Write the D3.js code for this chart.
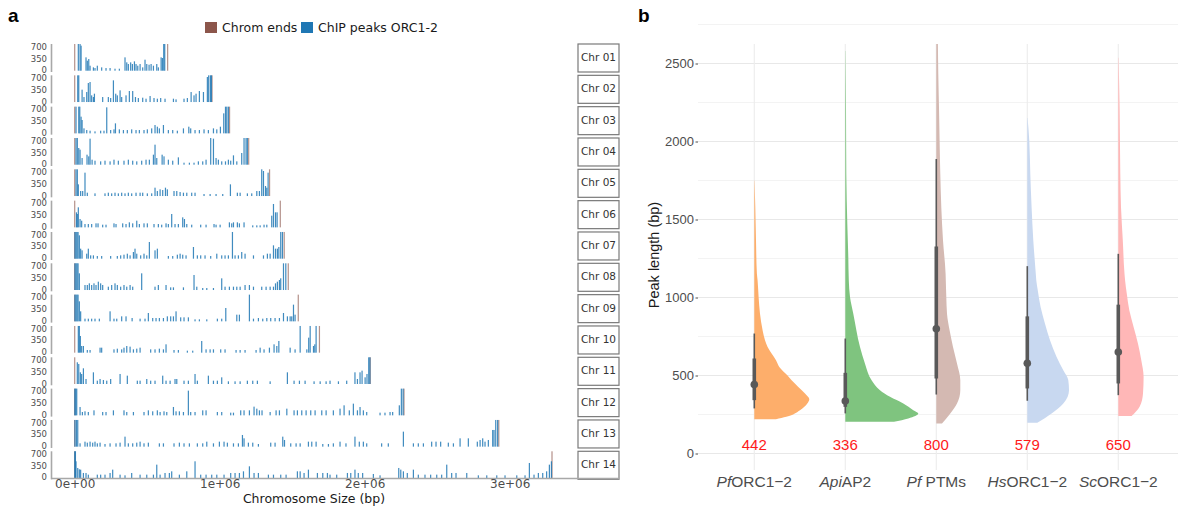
<!DOCTYPE html>
<html>
<head>
<meta charset="utf-8">
<script src="https://cdn.jsdelivr.net/npm/d3@7"></script>
<style>
  body { margin: 0; background: #fff; }
  svg { display: block; }
</style>
</head>
<body>
<svg width="1178" height="508"></svg>
<script>
// ---------- panel a data (positions in kb, peak heights) ----------
const chromNames = ["Chr 01","Chr 02","Chr 03","Chr 04","Chr 05","Chr 06","Chr 07",
                    "Chr 08","Chr 09","Chr 10","Chr 11","Chr 12","Chr 13","Chr 14"];
const chromLengths = [641, 947, 1068, 1200, 1344, 1418, 1445, 1473, 1542, 1688, 2038, 2271, 2925, 3292];

const peaksChr01 = [[25,830],[37,820],[44,750],[78,400],[87,300],[97,350],[106,150],[129,100],[140,80],[156,150],[186,100],[216,80],[244,80],[278,60],[308,60],[347,400],[359,250],[370,200],[386,250],[398,200],[412,280],[423,200],[435,150],[451,200],[469,100],[485,330],[497,200],[513,180],[527,200],[543,150],[566,200],[577,100],[596,400],[605,380],[614,830],[621,830]];
const peaksChr02 = [[21,800],[28,800],[51,370],[64,150],[83,300],[94,570],[106,600],[117,200],[129,150],[136,250],[193,150],[232,150],[248,120],[267,650],[283,250],[294,200],[313,350],[324,150],[354,200],[377,330],[400,330],[419,150],[439,120],[469,130],[492,100],[520,180],[547,120],[570,100],[593,120],[623,100],[681,100],[699,80],[754,100],[777,120],[803,300],[823,200],[837,250],[860,330],[888,300],[915,750],[924,830],[936,830],[943,830]];
const peaksChr03 = [[9,850],[28,830],[35,800],[44,500],[51,400],[64,150],[83,100],[106,80],[140,60],[179,80],[202,80],[221,780],[248,100],[271,120],[281,300],[308,120],[336,100],[363,100],[393,120],[423,100],[446,100],[478,100],[501,120],[531,150],[554,250],[570,200],[584,150],[612,250],[646,100],[676,100],[708,80],[750,150],[787,200],[800,150],[830,100],[860,100],[892,120],[922,100],[957,150],[980,120],[1005,200],[1028,600],[1040,820],[1049,820],[1060,820]];
const peaksChr04 = [[9,850],[18,830],[28,500],[37,450],[51,200],[85,300],[97,250],[106,780],[120,150],[140,120],[179,100],[209,120],[244,100],[271,150],[301,120],[340,120],[370,150],[400,120],[428,100],[462,120],[492,150],[515,150],[543,300],[554,600],[566,200],[603,300],[616,250],[646,150],[676,120],[715,220],[754,60],[791,60],[823,60],[853,100],[883,100],[906,150],[938,800],[957,780],[975,200],[991,150],[1014,100],[1040,100],[1060,150],[1076,120],[1095,280],[1118,100],[1152,350],[1168,800],[1182,820],[1191,820]];
const peaksChr05 = [[9,850],[18,800],[25,350],[41,150],[55,150],[71,700],[87,100],[140,80],[209,80],[232,100],[255,80],[278,100],[301,80],[324,100],[347,80],[370,100],[393,80],[423,100],[451,100],[469,100],[501,80],[531,80],[554,250],[570,150],[589,200],[607,180],[626,250],[639,200],[685,150],[704,150],[727,120],[750,100],[773,100],[807,100],[830,100],[892,60],[934,60],[975,60],[1021,60],[1074,350],[1122,100],[1141,100],[1191,80],[1221,80],[1256,150],[1274,150],[1290,800],[1302,750],[1316,300],[1325,250],[1334,700]];
const peaksChr06 = [[12,450],[18,400],[25,600],[37,250],[48,200],[71,100],[94,100],[117,100],[147,120],[161,120],[193,80],[216,80],[271,120],[285,100],[331,120],[354,100],[377,150],[400,120],[428,200],[446,100],[478,120],[501,120],[547,100],[577,100],[600,80],[630,120],[646,100],[669,400],[692,100],[715,100],[745,300],[757,250],[773,100],[807,80],[869,80],[906,80],[961,100],[975,80],[1003,80],[1067,150],[1083,120],[1095,150],[1122,150],[1136,120],[1168,150],[1228,60],[1256,60],[1279,60],[1306,80],[1325,80],[1359,350],[1371,700],[1385,450],[1396,450]];
const peaksChr07 = [[2,830],[9,830],[16,830],[23,830],[32,700],[41,300],[51,250],[83,150],[94,300],[110,100],[129,100],[156,80],[186,80],[248,80],[294,80],[317,100],[340,120],[363,150],[382,100],[405,200],[416,300],[428,150],[455,100],[478,150],[497,100],[515,500],[554,250],[570,300],[646,80],[676,80],[708,120],[727,150],[745,120],[768,100],[819,350],[846,100],[869,100],[899,100],[938,80],[980,150],[1014,100],[1037,100],[1060,100],[1088,850],[1106,100],[1129,100],[1152,200],[1175,150],[1233,100],[1302,100],[1329,150],[1348,150],[1371,400],[1385,300],[1398,300],[1408,350],[1421,830],[1433,830]];
const peaksChr08 = [[2,830],[9,830],[16,830],[23,800],[32,500],[71,150],[87,150],[101,200],[117,150],[133,200],[147,150],[163,250],[179,200],[193,150],[232,100],[255,150],[278,200],[294,150],[317,100],[340,150],[359,100],[382,150],[400,100],[462,500],[554,100],[577,150],[630,150],[662,80],[681,80],[750,80],[823,450],[842,100],[883,60],[911,60],[957,60],[1014,350],[1037,100],[1067,100],[1095,100],[1118,100],[1141,100],[1175,150],[1205,150],[1233,100],[1290,100],[1320,100],[1348,100],[1371,100],[1385,200],[1398,250],[1412,300],[1421,350],[1440,830],[1456,830]];
const peaksChr09 = [[2,830],[9,830],[16,830],[23,800],[32,600],[41,300],[71,80],[94,80],[117,80],[140,80],[170,80],[244,300],[271,80],[290,80],[324,150],[354,150],[396,100],[451,80],[485,80],[508,250],[538,100],[561,100],[584,100],[612,100],[639,150],[662,150],[681,150],[699,300],[731,120],[754,120],[784,120],[830,60],[860,60],[911,60],[984,80],[1014,80],[1042,400],[1118,200],[1136,200],[1205,800],[1233,80],[1267,100],[1297,80],[1325,100],[1352,100],[1382,100],[1412,100],[1440,250],[1467,150],[1486,150],[1497,150],[1509,500],[1520,200]];
const peaksChr10 = [[25,850],[32,800],[39,500],[48,200],[60,200],[87,80],[106,80],[175,150],[186,150],[271,100],[294,120],[324,100],[340,150],[359,200],[382,180],[405,100],[428,120],[451,150],[524,100],[554,100],[584,120],[612,100],[630,250],[685,80],[715,80],[777,60],[814,60],[876,350],[906,100],[934,100],[957,100],[1007,100],[1037,100],[1113,80],[1141,80],[1175,80],[1251,80],[1279,150],[1306,100],[1343,150],[1375,250],[1394,200],[1408,350],[1486,150],[1520,100],[1555,850],[1601,100],[1614,450],[1624,820],[1647,200],[1656,250],[1665,820]];
const peaksChr11 = [[18,650],[28,600],[39,350],[48,300],[60,470],[78,150],[129,350],[156,100],[175,150],[198,120],[221,100],[248,150],[313,300],[363,250],[432,100],[451,100],[497,150],[524,100],[554,100],[607,250],[630,100],[658,100],[692,150],[704,150],[754,100],[784,100],[830,300],[846,100],[922,250],[957,100],[984,100],[1014,200],[1060,80],[1106,80],[1141,80],[1191,100],[1228,100],[1260,100],[1348,80],[1467,350],[1513,100],[1550,100],[1589,100],[1651,80],[1693,80],[1734,80],[1761,100],[1819,80],[1876,100],[1933,350],[1950,150],[1968,350],[1982,400],[2003,200],[2016,300],[2028,830],[2036,830]];
const peaksChr12 = [[1,850],[7,850],[14,850],[37,250],[53,100],[71,120],[94,100],[133,150],[193,100],[216,100],[267,150],[340,150],[359,100],[405,100],[478,100],[508,150],[538,120],[570,150],[589,100],[616,120],[635,100],[681,250],[699,120],[722,120],[750,100],[784,740],[800,100],[830,100],[883,150],[906,150],[984,100],[1014,100],[1076,80],[1095,80],[1145,150],[1168,150],[1205,150],[1237,260],[1256,200],[1274,150],[1292,150],[1348,100],[1389,150],[1412,150],[1463,200],[1513,150],[1536,150],[1566,150],[1596,150],[1628,150],[1658,150],[1704,150],[1734,150],[1784,150],[1830,200],[1858,300],[1894,150],[1922,350],[1950,150],[1968,250],[1991,150],[2014,100],[2106,80],[2140,80],[2175,100],[2193,100],[2239,300],[2253,830],[2265,830]];
const peaksChr13 = [[2,830],[12,830],[21,830],[37,100],[71,150],[87,120],[106,150],[124,120],[140,150],[156,100],[175,120],[209,80],[244,100],[285,100],[313,120],[347,300],[370,100],[400,100],[428,120],[451,150],[478,100],[508,120],[584,100],[612,100],[685,100],[722,120],[754,100],[791,100],[846,100],[883,100],[911,150],[957,100],[998,150],[1030,150],[1053,120],[1095,100],[1129,100],[1157,350],[1168,250],[1198,120],[1228,120],[1267,80],[1352,120],[1382,120],[1435,300],[1447,200],[1490,100],[1527,100],[1555,100],[1612,150],[1635,150],[1665,150],[1711,80],[1750,80],[1784,100],[1830,150],[1871,100],[1933,300],[1963,150],[1991,150],[2014,100],[2117,100],[2163,100],[2267,450],[2336,100],[2370,100],[2405,100],[2462,150],[2492,150],[2524,150],[2577,120],[2612,100],[2658,250],[2715,250],[2777,150],[2796,200],[2814,250],[2830,150],[2853,200],[2883,500],[2892,500],[2904,830],[2917,830]];
const peaksChr14 = [[1,830],[5,830],[9,500],[21,300],[32,260],[41,250],[60,150],[78,150],[94,100],[156,100],[179,100],[209,100],[244,150],[262,250],[313,100],[347,80],[393,150],[451,100],[497,100],[543,100],[566,400],[589,100],[623,150],[653,150],[669,200],[722,100],[773,200],[830,500],[869,100],[906,100],[945,100],[980,100],[1030,100],[1076,150],[1106,150],[1136,150],[1164,200],[1205,350],[1237,150],[1267,150],[1336,100],[1371,100],[1421,100],[1458,100],[1536,200],[1555,200],[1582,150],[1612,250],[1674,150],[1711,150],[1743,150],[1761,100],[1807,100],[1881,150],[1904,150],[1933,250],[1956,150],[1986,150],[2060,120],[2106,80],[2235,300],[2249,250],[2267,200],[2294,150],[2336,250],[2370,100],[2416,100],[2455,100],[2497,100],[2531,100],[2566,400],[2600,150],[2630,150],[2704,150],[2784,80],[2842,80],[2911,80],[2968,80],[3049,80],[3106,80],[3136,450],[3168,100],[3198,150],[3228,150],[3255,200],[3274,400],[3288,500]];
const chromPeaks = [peaksChr01, peaksChr02, peaksChr03, peaksChr04, peaksChr05, peaksChr06, peaksChr07,
                    peaksChr08, peaksChr09, peaksChr10, peaksChr11, peaksChr12, peaksChr13, peaksChr14];

const rowTicks = [0, 350, 700];
const xTickVals = [0, 1000, 2000, 3000];
const xTickLabels = ["0e+00", "1e+06", "2e+06", "3e+06"];
const legendLabels = ["Chrom ends", "ChIP peaks ORC1-2"];

// ---------- panel b data ----------
const groups = ["PfORC1-2", "ApiAP2", "PfPTMs", "HsORC1-2", "ScORC1-2"];
const groupItalic = ["Pf", "Api", "Pf", "Hs", "Sc"];
const groupRest = ["ORC1\u22122", "AP2", " PTMs", "ORC1\u22122", "ORC1\u22122"];
const medians = [442, 336, 800, 579, 650];
const thinLo = [289, 257, 378, 338, 374];
const thinHi = [769, 737, 1888, 1201, 1280];
const thickLo = [342, 299, 481, 417, 449];
const thickHi = [609, 517, 1327, 879, 954];
const yTicksB = [0, 500, 1000, 1500, 2000, 2500];
// [peak length, relative density]
const densPfORC = [[219,21.7],[235,32],[278,45.7],[321,53],[348,55],[385,50.7],[427,44],[470,37.3],[502,33],[555,25],[598,21.7],[641,17.3],[683,13.3],[726,10.7],[790,8.3],[896,5.7],[1003,4.3],[1109,3.3],[1152,2.6],[1365,1.7],[1578,1],[1750,0.2]];
const densApiAP2 = [[203,48.7],[225,63],[257,73],[278,68],[321,58],[363,44.7],[406,34.7],[470,26.3],[576,19.7],[683,14.7],[896,8],[1003,4.7],[1109,3.5],[1258,3],[1472,2],[1791,1],[2217,0.7],[2580,0.2]];
const densPfPTMs = [[193,5.7],[257,14],[321,20.7],[406,24],[470,24],[577,20.7],[683,16.7],[790,13.3],[896,10.7],[1003,10],[1109,9.5],[1152,9.3],[1365,6.7],[1578,5],[1791,4],[2004,3.3],[2217,2.7],[2431,2],[2700,1.5]];
const densHsORC = [[197,10],[257,24.3],[321,36],[406,41.7],[470,41],[534,36],[619,29.3],[726,22.7],[832,17.7],[939,13.3],[1045,10.5],[1109,9],[1152,8.5],[1365,6],[1578,4.3],[1791,3],[2004,2],[2150,0.3]];
const densScORC = [[240,13.3],[299,21.3],[385,24.7],[491,25.3],[598,23],[704,19.7],[811,15.3],[918,11],[1024,8.5],[1109,6.8],[1152,6.2],[1365,4.5],[1578,2.7],[1791,2],[2217,1.3],[2537,0.3]];
const groupDens = [densPfORC, densApiAP2, densPfPTMs, densHsORC, densScORC];
const groupColors = ["#fdae6b", "#7fc47f", "#d4b9b2", "#c8d8f0", "#ffb7b7"];

const svg = d3.select("svg");

// ================= panel a =================
const fontA = "DejaVu Sans, sans-serif";
const peakColor = "#1f77b4";
const endColor = "#8c564b";

svg.append("text")
    .attr("x", 8).attr("y", 22)
    .style("font-family", "Liberation Sans, Arial, sans-serif")
    .style("font-weight", "bold").style("font-size", "19px")
    .text("a");

// legend
const legend = svg.append("g").attr("transform", "translate(205,22)");
[endColor, peakColor].forEach((c, i) => {
    const lx = i === 0 ? 0 : 96;
    legend.append("rect").attr("x", lx).attr("y", 0).attr("width", 12).attr("height", 11).attr("fill", c);
    legend.append("text").attr("x", lx + 17).attr("y", 6)
        .attr("dominant-baseline", "middle")
        .style("font-family", fontA).style("font-size", "12.5px").attr("fill", "#1a1a1a")
        .text(legendLabels[i]);
});

const x = d3.scaleLinear().domain([0, 3292]).range([74.7, 552]);
const rowStep = 31.33, rowH = 28, firstTop = 44;

chromNames.forEach((name, i) => {
    const top = firstTop + i * rowStep;
    const y = d3.scaleLinear().domain([0, 800]).range([top + 26.7, top]).clamp(true);
    const g = svg.append("g");

    // left axis line
    g.append("line").attr("x1", 51.5).attr("x2", 51.5).attr("y1", top).attr("y2", top + rowH)
        .attr("stroke", "#a8a8a8").attr("stroke-width", 1.6);
    g.selectAll(".tk").data(rowTicks).enter().append("text")
        .attr("x", 47).attr("y", d => y(d))
        .attr("text-anchor", "end").attr("dominant-baseline", "middle")
        .style("font-family", fontA).style("font-size", "8.5px").attr("fill", "#4d4d4d")
        .text(d => d);

    // chromosome ends
    g.selectAll(".end").data([0, chromLengths[i]]).enter().append("rect")
        .attr("x", d => x(d) - 0.6).attr("width", 1.2)
        .attr("y", y(800)).attr("height", y(0) - y(800))
        .attr("fill", endColor).attr("opacity", 0.65);

    // ChIP peaks
    g.selectAll(".pk").data(chromPeaks[i]).enter().append("rect")
        .attr("x", d => x(d[0]) - 0.6).attr("width", 1.2)
        .attr("y", d => y(d[1])).attr("height", d => y(0) - y(d[1]))
        .attr("fill", peakColor).attr("opacity", 0.85);

    // strip
    g.append("rect").attr("x", 578).attr("y", top).attr("width", 41).attr("height", rowH)
        .attr("fill", "#fff").attr("stroke", "#7a7a7a").attr("stroke-width", 1.2);
    g.append("text").attr("x", 598.5).attr("y", top + rowH / 2)
        .attr("text-anchor", "middle").attr("dominant-baseline", "middle")
        .style("font-family", fontA).style("font-size", "10.5px").attr("fill", "#333")
        .text(name);
});

// x axis
svg.append("line").attr("x1", 51).attr("x2", 619).attr("y1", 478.5).attr("y2", 478.5)
    .attr("stroke", "#a8a8a8").attr("stroke-width", 1.6);
const xAxis = svg.append("g").attr("transform", "translate(0,478.5)")
    .call(d3.axisBottom(x).tickValues(xTickVals).tickSize(0).tickPadding(1)
        .tickFormat((d, i) => xTickLabels[i]));
xAxis.select(".domain").remove();
xAxis.selectAll("text").style("font-family", fontA).style("font-size", "12px").attr("fill", "#4d4d4d");
svg.append("text").attr("x", 314).attr("y", 499)
    .attr("text-anchor", "middle").attr("dominant-baseline", "middle")
    .style("font-family", fontA).style("font-size", "12.5px").attr("fill", "#1a1a1a")
    .text("Chromosome Size (bp)");

// ================= panel b =================
const fontB = "Liberation Sans, Arial, sans-serif";
svg.append("text")
    .attr("x", 638).attr("y", 22)
    .style("font-family", fontB).style("font-weight", "bold").style("font-size", "19px")
    .text("b");

const pTop = 44, pBottom = 470, pLeft = 698, pRight = 1178;
const yb = d3.scaleLinear().domain([0, 2500]).range([453.5, 63.5]);
const xb = d3.scalePoint().domain(groups).range([754.3, 1118.3]);
const wScale = d3.scaleLinear().domain([0, 75]).range([0, 75]);

const grid = svg.append("g");
grid.selectAll(".minor").data(yTicksB.map(d => d + 250)).enter().append("line")
    .attr("x1", pLeft).attr("x2", pRight).attr("y1", d => yb(d)).attr("y2", d => yb(d))
    .attr("stroke", "#f3f3f3").attr("stroke-width", 1);
grid.selectAll(".major").data(yTicksB).enter().append("line")
    .attr("x1", pLeft).attr("x2", pRight).attr("y1", d => yb(d)).attr("y2", d => yb(d))
    .attr("stroke", "#e8e8e8").attr("stroke-width", 1.1);
grid.selectAll(".vert").data(groups).enter().append("line")
    .attr("x1", d => xb(d)).attr("x2", d => xb(d)).attr("y1", pTop).attr("y2", pBottom)
    .attr("stroke", "#ececec").attr("stroke-width", 1.1);

svg.append("clipPath").attr("id", "clipB").append("rect")
    .attr("x", pLeft).attr("y", pTop).attr("width", pRight - pLeft).attr("height", pBottom - pTop);

const violins = svg.append("g").attr("clip-path", "url(#clipB)");
groups.forEach((grp, i) => {
    const cx = xb(grp);
    const area = d3.area()
        .curve(d3.curveMonotoneY)
        .y(d => yb(d[0]))
        .x0(cx)
        .x1(d => cx + wScale(d[1]));
    violins.append("path").datum(groupDens[i])
        .attr("d", area).attr("fill", groupColors[i]);

    // point interval
    violins.append("line").attr("x1", cx).attr("x2", cx)
        .attr("y1", yb(thinLo[i])).attr("y2", yb(thinHi[i]))
        .attr("stroke", "#595959").attr("stroke-width", 1.6);
    violins.append("line").attr("x1", cx).attr("x2", cx)
        .attr("y1", yb(thickLo[i])).attr("y2", yb(thickHi[i]))
        .attr("stroke", "#595959").attr("stroke-width", 3.6);
    violins.append("circle").attr("cx", cx).attr("cy", yb(medians[i])).attr("r", 3.8)
        .attr("fill", "#595959");

    svg.append("text").attr("x", cx).attr("y", yb(50))
        .attr("text-anchor", "middle").attr("dominant-baseline", "middle")
        .style("font-family", fontB).style("font-size", "15px").attr("fill", "#ff1a1a")
        .text(medians[i]);
});

// y axis
const yAxis = svg.append("g").attr("transform", `translate(${pLeft},0)`)
    .call(d3.axisLeft(yb).tickValues(yTicksB).tickFormat(d3.format("d")).tickSize(2.5).tickPadding(1.5));
yAxis.select(".domain").remove();
yAxis.selectAll("line").attr("stroke", "#4d4d4d");
yAxis.selectAll("text").style("font-family", fontB).style("font-size", "13px").attr("fill", "#4d4d4d");

svg.append("text")
    .attr("transform", "translate(655,255) rotate(-90)")
    .attr("text-anchor", "middle").attr("dominant-baseline", "middle")
    .style("font-family", fontB).style("font-size", "14.5px").attr("fill", "#1a1a1a")
    .text("Peak length (bp)");

// x category labels
groups.forEach((grp, i) => {
    const t = svg.append("text").attr("x", xb(grp)).attr("y", 483)
        .attr("text-anchor", "middle").attr("dominant-baseline", "middle")
        .style("font-family", fontB).style("font-size", "15.5px").attr("fill", "#4d4d4d");
    t.append("tspan").style("font-style", "italic").text(groupItalic[i]);
    t.append("tspan").text(groupRest[i]);
});
</script>
</body>
</html>
